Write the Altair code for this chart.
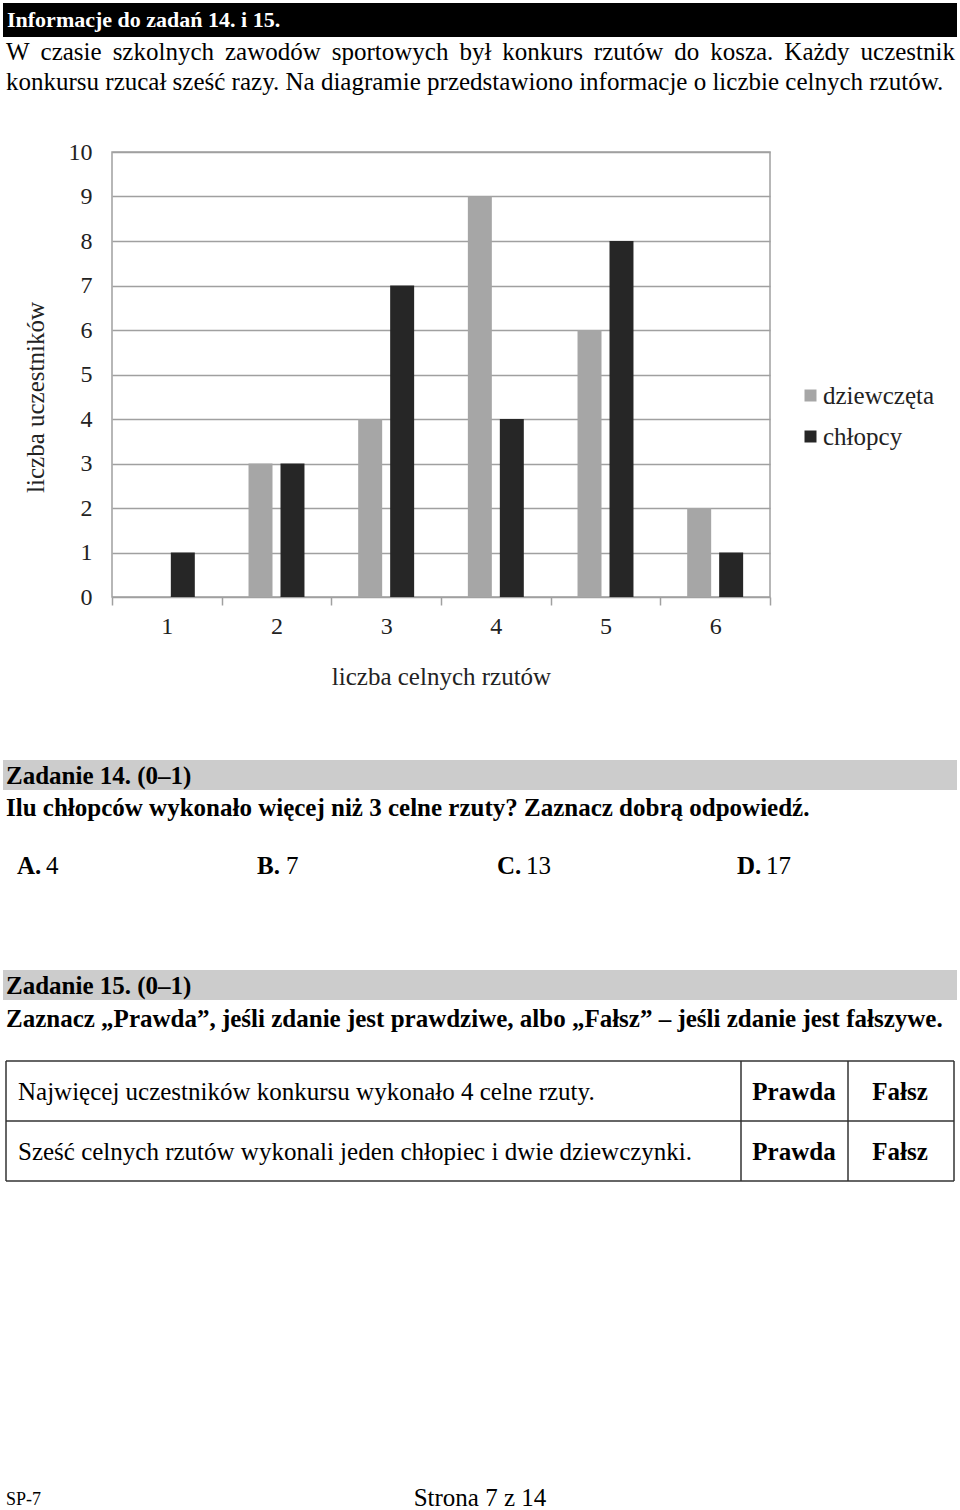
import altair as alt
import pandas as pd

# ---- data ----
categories = [1, 2, 3, 4, 5, 6]
girls = [0, 3, 4, 9, 6, 2]
boys = [1, 3, 7, 4, 8, 1]
series = ["dziewczęta", "chłopcy"]
series_colors = ["#a6a6a6", "#262626"]
y_ticks = [0, 1, 2, 3, 4, 5, 6, 7, 8, 9, 10]

header_text = "Informacje do zadań 14. i 15."
intro_lines = [
    "W czasie szkolnych zawodów sportowych był konkurs rzutów do kosza. Każdy uczestnik",
    "konkursu rzucał sześć razy. Na diagramie przedstawiono informacje o liczbie celnych rzutów.",
]
task14_title = "Zadanie 14. (0–1)"
task14_question = "Ilu chłopców wykonało więcej niż 3 celne rzuty? Zaznacz dobrą odpowiedź."
answer_letters = ["A.", "B.", "C.", "D."]
answer_values = ["4", "7", "13", "17"]
task15_title = "Zadanie 15. (0–1)"
task15_question = "Zaznacz „Prawda”, jeśli zdanie jest prawdziwe, albo „Fałsz” – jeśli zdanie jest fałszywe."
statements = [
    "Najwięcej uczestników konkursu wykonało 4 celne rzuty.",
    "Sześć celnych rzutów wykonali jeden chłopiec i dwie dziewczynki.",
]
choice_labels = ["Prawda", "Fałsz"]
footer_left = "SP-7"
footer_center = "Strona 7 z 14"

rows = []
for c, g, b in zip(categories, girls, boys):
    rows.append({"rzuty": c, "grupa": series[0], "liczba": g})
    rows.append({"rzuty": c, "grupa": series[1], "liczba": b})
df = pd.DataFrame(rows)

# ---- layout (page pixel coordinates) ----
OX, OY = 112, 152          # plot area origin on the page
W, H = 658, 445            # plot area size
PAGE_W, PAGE_H = 960, 1510
FONT = "Liberation Serif"
BODY = 25
ONE = alt.Data(values=[{"k": 0}])

# Times / Liberation Serif advance widths (per 1000 em), used to justify a line
GLYPH_W = {
    "W": 944, "K": 722, ".": 250, "a": 444, "b": 500, "c": 444, "d": 500,
    "e": 444, "h": 500, "i": 278, "k": 500, "l": 278, "n": 500, "o": 500,
    "p": 500, "r": 333, "s": 389, "t": 278, "u": 500, "w": 722, "y": 500,
    "z": 444, "ó": 500, "ł": 278, "ż": 444,
}


def txt(s, x, y, size=BODY, bold=False, color="#000000", align="left"):
    return alt.Chart(ONE).mark_text(
        text=s, font=FONT, fontSize=size,
        fontWeight="bold" if bold else "normal",
        color=color, align=align, baseline="middle",
    ).encode(x=alt.value(x - OX), y=alt.value(y - OY))


def justified(line_text, x0, x1, y, size=BODY):
    words = line_text.split(" ")
    widths = [sum(GLYPH_W.get(ch, 500) for ch in w) * size / 1000 for w in words]
    gap = (x1 - x0 - sum(widths)) / (len(words) - 1)
    out, x = [], x0
    for w, wd in zip(words, widths):
        out.append(txt(w, x, y, size))
        x += wd + gap
    return out


def box(x1, y1, x2, y2, color):
    return alt.Chart(ONE).mark_rect(color=color).encode(
        x=alt.value(x1 - OX), x2=alt.value(x2 - OX),
        y=alt.value(y1 - OY), y2=alt.value(y2 - OY))


def line(x1, y1, x2, y2, color="#333333", width=1.5):
    return alt.Chart(ONE).mark_rule(color=color, strokeWidth=width).encode(
        x=alt.value(x1 - OX), x2=alt.value(x2 - OX),
        y=alt.value(y1 - OY), y2=alt.value(y2 - OY))


bars = alt.Chart(df).mark_bar().encode(
    x=alt.X(
        "rzuty:N",
        scale=alt.Scale(paddingInner=0, paddingOuter=0),
        axis=alt.Axis(
            title="liczba celnych rzutów", labelAngle=0, tickBand="extent",
            ticks=True, tickSize=8, tickColor="#a0a0a0", tickWidth=1.5,
            grid=False, domain=False, labelPadding=21, labelBaseline="middle",
            titleBaseline="middle", titleY=79,
        ),
    ),
    xOffset=alt.XOffset(
        "grupa:N", sort=series,
        scale=alt.Scale(domain=series, paddingInner=0.25, paddingOuter=0.84),
    ),
    y=alt.Y(
        "liczba:Q",
        scale=alt.Scale(domain=[0, 10], nice=False),
        axis=alt.Axis(
            values=y_ticks, title="liczba uczestników", grid=True, ticks=False,
            domain=False, labelPadding=20, titleAngle=-90, titleAlign="center",
            titleBaseline="alphabetic", titleX=43 - OX, titleY=397 - OY,
        ),
    ),
    color=alt.Color(
        "grupa:N", sort=series,
        scale=alt.Scale(domain=series, range=series_colors),
        legend=alt.Legend(
            title=None, orient="none", legendX=686, legendY=231,
            symbolType="square", symbolSize=144, symbolStrokeWidth=0,
            labelFontSize=25, labelFont=FONT, labelColor="#222222",
            labelOffset=0, rowPadding=15, padding=0,
        ),
    ),
)

layers = [bars]

# header
layers.append(box(3, 3, 957, 37, "#000000"))
layers.append(txt(header_text, 7, 20, size=22, bold=True, color="#ffffff"))
layers.extend(justified(intro_lines[0], 6, 955, 52))
layers.append(txt(intro_lines[1], 6, 82))

# task 14
layers.append(box(3, 760, 957, 790, "#cccccc"))
layers.append(txt(task14_title, 6, 776, bold=True))
layers.append(txt(task14_question, 6, 808, bold=True))
for i, (l, v) in enumerate(zip(answer_letters, answer_values)):
    x0 = 17 + i * 240
    layers.append(txt(l, x0, 866, bold=True))
    layers.append(txt(v, x0 + 29, 866))

# task 15
layers.append(box(3, 970, 957, 1000, "#cccccc"))
layers.append(txt(task15_title, 6, 986, bold=True))
layers.append(txt(task15_question, 6, 1019, bold=True))

# table
for yy in [1061, 1121, 1181]:
    layers.append(line(6, yy, 954, yy))
for xx in [6, 741, 848, 954]:
    layers.append(line(xx, 1061, xx, 1181))
for r, s in enumerate(statements):
    yc = 1092 + r * 60
    layers.append(txt(s, 18, yc))
    layers.append(txt(choice_labels[0], 794, yc, bold=True, align="center"))
    layers.append(txt(choice_labels[1], 900, yc, bold=True, align="center"))

# footer
layers.append(txt(footer_left, 6, 1500, size=18))
layers.append(txt(footer_center, 480, 1498, size=BODY, align="center"))

chart = alt.layer(*layers).properties(
    width=W, height=H,
    padding={"left": OX, "top": OY, "right": PAGE_W - OX - W, "bottom": PAGE_H - OY - H},
    autosize=alt.AutoSizeParams(type="none"),
    background="white",
).configure(font=FONT).configure_view(
    stroke="#a0a0a0", strokeWidth=1.5
).configure_axis(
    labelFont=FONT, titleFont=FONT, labelFontSize=24, titleFontSize=25,
    labelColor="#222222", titleColor="#222222", titleFontWeight="normal",
    gridColor="#a0a0a0", gridWidth=1.5,
)

chart.save("out.html", embed_options={"renderer": "svg", "actions": False})
